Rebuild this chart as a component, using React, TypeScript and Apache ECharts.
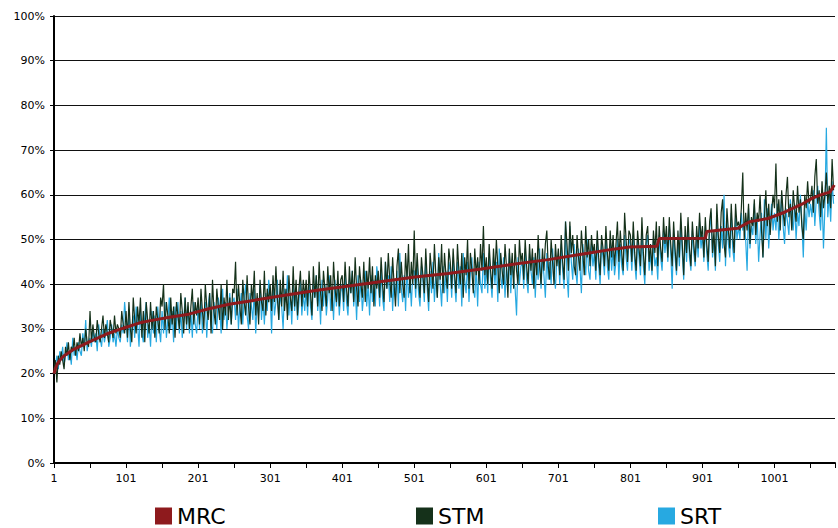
import React, { useEffect, useRef } from "react";
import * as echarts from "echarts";

// x positions are 0-based (label = value + 1)
const STEP = 2;
const X_MAX = 1084;
const X_TICK_LABELS = ["1", "101", "201", "301", "401", "501", "601", "701", "801", "901", "1001"];

const MRC_UNITS = [1, 3, 6, 9, 15, 27, 50, 73, 96, 119, 133, 161, 188, 216, 244, 271, 317, 364, 410, 456, 502, 548, 594, 641, 687, 733, 780, 800, 838, 841, 905, 907, 950, 960, 967, 992, 1015, 1039, 1053, 1067, 1078, 1084];
const MRC_VALUES = [20, 21.2, 22.3, 23, 24, 25.3, 27.1, 28.8, 30.1, 31.3, 31.8, 32.6, 33.3, 34.5, 35.5, 36.2, 37.4, 38.6, 39.6, 40.6, 41.6, 42.4, 43.4, 44.5, 45.5, 46.7, 47.9, 48.3, 48.5, 50.2, 50.3, 51.8, 52.5, 53.4, 54, 54.7, 56.1, 57.9, 59.2, 60.1, 60.6, 62.2];

const STM_VALUES = [
  21,23,18,24,22,25,23,21,26,24,27,23,26,25,28,24,27,25,29,26,28,25,30,27,26,
  34,27,31,28,27,32,29,27,30,33,28,31,29,27,32,30,28,33,29,31,30,28,34,31,29,
  34,28,36,30,27,37,32,29,35,31,37,28,34,27,36,32,29,36,30,34,28,35,32,29,37,
  35,40,30,36,33,29,37,31,35,28,36,33,30,38,34,29,37,31,36,30,35,39,31,36,33,
  37,31,39,34,30,40,35,32,38,29,41,34,31,39,35,32,40,30,37,33,41,32,37,31,39,
  38,45,33,40,35,31,41,36,33,42,35,31,40,36,43,33,38,31,41,36,34,43,33,39,36,
  40,34,42,36,44,37,32,41,35,43,34,39,32,42,37,34,44,35,41,33,39,43,35,41,37,
  41,35,43,38,33,44,37,42,35,45,38,34,43,39,35,44,38,42,34,45,39,36,43,35,41,
  42,36,45,39,35,44,38,43,36,46,39,35,44,40,37,45,36,43,39,46,38,44,35,42,39,
  43,37,46,40,36,45,39,47,41,37,46,40,35,44,48,38,45,40,37,47,41,49,38,45,40,
  52,39,47,41,37,46,42,38,48,41,36,47,43,39,49,42,37,46,41,49,38,47,42,39,48,
  45,39,48,42,38,49,43,40,47,37,46,42,50,39,47,43,38,48,42,46,40,49,43,53,42,
  46,40,49,43,39,48,42,50,44,38,47,43,40,49,44,37,48,42,47,39,49,43,40,50,45,
  47,41,50,44,40,49,43,48,39,47,42,51,44,40,48,43,49,52,44,41,50,45,40,49,44,
  48,42,51,45,41,54,49,43,54,47,51,44,42,51,46,43,52,47,42,53,46,50,44,51,47,
  49,43,52,46,42,51,48,44,53,47,43,52,46,51,44,49,54,45,52,47,43,56,50,45,52,
  51,45,54,47,43,52,48,44,55,47,42,51,53,45,49,43,52,47,54,44,53,48,45,55,49,
  53,46,55,49,44,54,48,43,52,46,56,49,42,53,47,55,48,44,54,49,45,53,48,56,50,
  53,46,55,49,45,54,57,47,52,44,58,51,47,56,59,49,46,57,52,48,58,51,47,58,53,
  54,52,57,65,50,56,52,58,49,55,53,59,51,56,54,60,52,46,55,61,53,58,51,56,60,
  57,67,54,59,52,61,56,53,60,64,55,58,52,61,57,54,62,56,59,53,50,60,57,63,58,
  59,62,56,64,68,58,61,55,63,57,60,65,58,62,57,68,61
];

const SRT_VALUES = [
  20,22,24,21,25,23,26,22,24,27,23,25,22,28,24,26,23,27,25,24,29,26,32,25,27,
  28,26,30,27,29,25,31,28,26,30,27,29,32,26,28,31,27,29,26,30,28,27,31,29,36,
  32,27,34,26,30,33,28,35,31,26,34,29,27,33,36,28,31,26,34,29,33,27,35,30,27,
  34,29,36,28,32,37,30,34,27,35,30,36,29,34,28,32,37,30,35,29,34,28,36,31,29,
  35,30,37,29,33,36,28,35,38,31,29,36,33,30,37,34,29,39,32,36,30,34,38,31,36,
  37,32,39,30,35,38,31,37,40,33,30,38,35,32,39,29,36,33,40,32,37,31,38,34,41,
  38,29,40,33,36,41,32,38,35,30,39,36,42,33,38,31,40,34,39,32,36,41,33,38,34,
  39,33,41,35,32,40,37,42,34,39,31,41,35,40,33,37,42,34,39,32,41,35,40,33,38,
  40,34,42,36,33,41,38,43,35,40,32,42,36,41,34,38,43,35,40,33,42,36,41,35,44,
  41,35,43,37,34,45,39,42,36,44,34,41,37,43,35,47,39,36,42,34,44,37,41,35,43,
  43,37,45,38,35,44,41,36,46,39,34,43,38,45,36,42,37,47,40,35,44,38,43,36,45,
  43,37,46,40,36,45,39,44,35,47,41,38,45,36,43,46,39,37,44,35,45,40,38,47,39,
  44,38,47,41,37,46,40,45,36,48,42,39,46,37,44,40,47,38,45,41,39,33,46,40,44,
  45,39,48,41,38,47,43,40,46,37,45,41,48,39,46,42,37,47,41,45,40,48,42,39,46,
  46,40,49,43,39,54,42,37,53,45,41,49,43,40,48,44,38,49,45,42,50,43,41,49,44,
  47,41,50,44,40,49,46,42,51,44,41,49,43,48,42,45,50,41,49,44,42,51,46,43,50,
  49,43,51,45,41,50,46,42,52,44,40,49,51,43,47,42,50,44,46,41,51,46,43,52,47,
  51,45,53,47,39,52,46,42,50,44,54,47,41,51,45,53,46,43,52,47,44,51,46,54,48,
  51,45,53,47,43,52,56,46,50,43,55,49,45,53,48,60,44,54,49,46,56,48,45,55,50,
  53,50,56,52,54,50,43,57,48,53,51,58,49,55,45,51,56,46,59,50,57,48,54,58,52,
  56,52,58,50,55,60,53,49,57,54,51,59,55,52,58,50,56,53,60,54,46,57,52,59,55,
  58,55,61,53,59,62,56,52,60,48,57,75,55,60,54,63,58
];

const FONT = "DejaVu Sans";

export default function App() {
  const ref = useRef<HTMLDivElement>(null);
  useEffect(() => {
    if (!ref.current) return;
    const chart = echarts.init(ref.current, undefined, { renderer: "svg" });
    const toPairs = (vals: number[]) => vals.map((v, i) => [i * STEP, v]);
    const legendCommon = {
      orient: "horizontal" as const,
      icon: "rect",
      itemWidth: 17,
      itemHeight: 17,
      itemGap: 0,
      padding: 0,
      top: 505,
      textStyle: { fontFamily: FONT, fontSize: 22, color: "#000", lineHeight: 22 },
    };
    chart.setOption({
      animation: false,
      backgroundColor: "#fff",
      grid: { left: 54, right: 0, top: 16, bottom: 65, containLabel: false },
      legend: [
        { ...legendCommon, left: 155, data: ["MRC"] },
        { ...legendCommon, left: 416, data: ["STM"] },
        { ...legendCommon, left: 658, data: ["SRT"] },
      ],
      xAxis: {
        type: "value",
        min: 0,
        max: X_MAX,
        interval: 50,
        axisLine: { show: true, lineStyle: { color: "#000", width: 2 } },
        axisTick: { show: true, length: 5, lineStyle: { color: "#000", width: 1 } },
        splitLine: { show: false },
        axisLabel: {
          fontFamily: FONT,
          fontSize: 11,
          color: "#000",
          margin: 10,
          formatter: (v: number) => {
            const idx = v / 100;
            return Number.isInteger(idx) && idx < X_TICK_LABELS.length ? X_TICK_LABELS[idx] : "";
          },
        },
      },
      yAxis: {
        type: "value",
        min: 0,
        max: 100,
        interval: 10,
        axisLine: { show: true, lineStyle: { color: "#000", width: 2 } },
        axisTick: { show: true, length: 4, lineStyle: { color: "#000", width: 1 } },
        splitLine: { show: true, lineStyle: { color: "#111", width: 1 } },
        axisLabel: { fontFamily: FONT, fontSize: 11, color: "#000", margin: 9, formatter: "{value}%" },
      },
      series: [
        {
          name: "SRT",
          type: "line",
          data: toPairs(SRT_VALUES),
          showSymbol: false,
          symbol: "none",
          color: "#27a9e1",
          lineStyle: { color: "#27a9e1", width: 1.2 },
        },
        {
          name: "STM",
          type: "line",
          data: toPairs(STM_VALUES),
          showSymbol: false,
          symbol: "none",
          color: "#15311a",
          lineStyle: { color: "#15311a", width: 1.2 },
        },
        {
          name: "MRC",
          type: "line",
          data: MRC_UNITS.map((u, i) => [u - 1, MRC_VALUES[i]]),
          showSymbol: false,
          symbol: "none",
          color: "#8e1a1d",
          lineStyle: { color: "#8e1a1d", width: 3 },
        },
      ],
    });
    return () => chart.dispose();
  }, []);
  return (
    <div
      ref={ref}
      style={{ position: "fixed", left: 0, top: 0, width: 838, height: 528, background: "#fff" }}
    />
  );
}
